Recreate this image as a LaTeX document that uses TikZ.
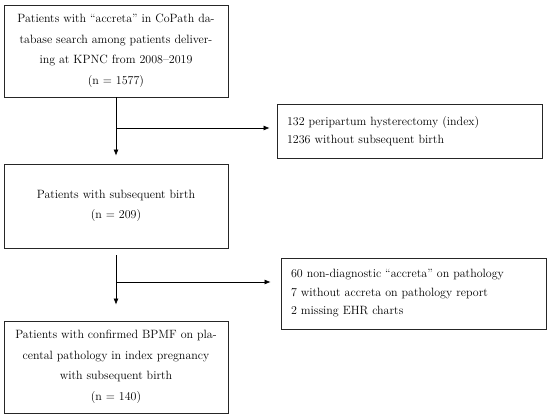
\documentclass[tikz,border=0pt]{standalone}
\usetikzlibrary{arrows.meta}

\begin{document}
\begin{tikzpicture}[x=1pt, y=-1pt,
    mainbox/.style = {draw=black!85, line width=0.9pt, minimum width=224pt,
      align=center, font=\fontsize{12}{20.5}\selectfont},
    sidebox/.style = {draw=black!85, line width=0.9pt, minimum width=265pt,
      text width=245pt, inner xsep=10pt, align=left,
      font=\fontsize{12}{18.5}\selectfont},
    flow/.style = {-{Latex[length=6pt, width=5pt]}, line width=0.6pt}]
    \useasboundingbox (0,0) rectangle (550,417);

    % Main boxes
    \node[mainbox, minimum height=92pt] (search) at (116,51)
      {Patients with ``accreta'' in CoPath da-\\
       tabase search among patients deliver-\\
       ing at KPNC from 2008--2019\\
       (n = 1577)};
    \node[mainbox, minimum height=84pt] (birth) at (116,206)
      {Patients with subsequent birth\\
       (n = 209)};
    \node[mainbox, minimum height=92pt] (confirmed) at (116,367)
      {Patients with confirmed BPMF on pla-\\
       cental pathology in index pregnancy\\
       with subsequent birth\\
       (n = 140)};

    % Exclusion boxes
    \node[sidebox, minimum height=54pt] (exclA) at (409.5,131)
      {132 peripartum hysterectomy (index)\\
       1236 without subsequent birth};
    \node[sidebox, minimum height=71pt] (exclB) at (413.5,293.5)
      {60 non-diagnostic ``accreta'' on pathology\\
       7 without accreta on pathology report\\
       2 missing EHR charts};

    % Branch points
    \coordinate (splitA) at (116,128);
    \coordinate (splitB) at (116,282);

    % Arrows
    \draw[flow, shorten >=8pt] (search.south) -- (birth.north);
    \draw[flow, shorten <=7pt, shorten >=16pt] (birth.south) -- (confirmed.north);
    \draw[flow, shorten >=7pt] (splitA) -- (splitA -| exclA.west);
    \draw[flow, shorten >=10pt] (splitB) -- (splitB -| exclB.west);
\end{tikzpicture}
\end{document}
